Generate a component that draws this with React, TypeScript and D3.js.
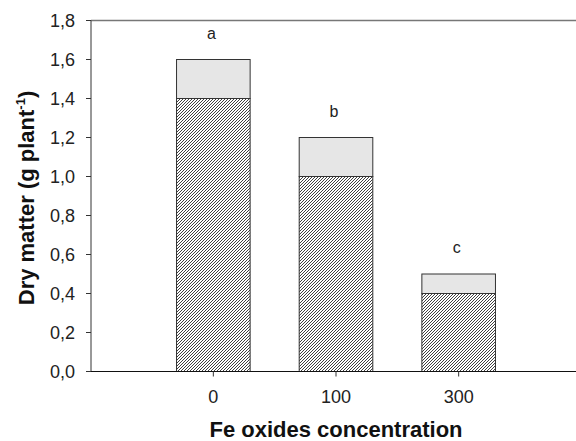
import React from 'react';
import * as d3 from 'd3';

// values
const categories = ['0', '100', '300'];
const hatchedValues = [1.4, 1.0, 0.4];
const totalValues = [1.6, 1.2, 0.5];
const letters = ['a', 'b', 'c'];
const yTicks = [0, 0.2, 0.4, 0.6, 0.8, 1.0, 1.2, 1.4, 1.6, 1.8];

const W = 576;
const H = 441;
const plot = { left: 91, top: 20.5, bottom: 371.5, right: 576 };
const FONT = 'Arial, "Liberation Sans", sans-serif';

export default function App() {
  const x = d3.scaleBand<string>()
    .domain(categories)
    .range([152, 520])
    .paddingInner(0.4)
    .paddingOuter(0.2);

  const y = d3.scaleLinear().domain([0, 1.8]).range([plot.bottom, plot.top]);
  const fmt = (v: number) => d3.format('.1f')(v).replace('.', ',');

  return (
    <svg width={W} height={H} style={{ position: 'absolute', left: 0, top: 0, background: '#fff' }}>
      <defs>
        <pattern id="hatch" patternUnits="userSpaceOnUse" width={3} height={3}>
          <rect width={3} height={3} fill="#fff" />
          <path d="M0,3 L3,0 M-0.75,0.75 L0.75,-0.75 M2.25,3.75 L3.75,2.25"
            stroke="#2a2a2a" strokeWidth={0.9} />
        </pattern>
      </defs>

      {/* frame: top line, left axis, bottom axis */}
      <line x1={plot.left} x2={plot.right} y1={plot.top} y2={plot.top} stroke="#777" strokeWidth={1.5} />
      <line x1={plot.left} x2={plot.left} y1={plot.top} y2={plot.bottom} stroke="#333" strokeWidth={1} />

      {/* bars */}
      {categories.map((c, i) => {
        const bx = x(c)!;
        const bw = x.bandwidth();
        return (
          <g key={c}>
            <rect x={bx} y={y(totalValues[i])} width={bw} height={y(hatchedValues[i]) - y(totalValues[i])}
              fill="#e6e6e6" stroke="#333" strokeWidth={1} />
            <rect x={bx} y={y(hatchedValues[i])} width={bw} height={y(0) - y(hatchedValues[i])}
              fill="url(#hatch)" stroke="#333" strokeWidth={1} />
            <text x={bx + bw / 2 - 2} y={y(totalValues[i]) - 21} textAnchor="middle"
              fontFamily={FONT} fontSize={16} fill="#222">{letters[i]}</text>
          </g>
        );
      })}

      <line x1={plot.left - 5} x2={plot.right} y1={plot.bottom} y2={plot.bottom} stroke="#111" strokeWidth={1.2} />

      {/* y ticks */}
      {yTicks.map(t => (
        <g key={t}>
          <line x1={plot.left - 5} x2={plot.left} y1={y(t)} y2={y(t)} stroke="#333" strokeWidth={1} />
          <text x={75} y={y(t) + 6.5} textAnchor="end" fontFamily={FONT} fontSize={18} fill="#222">{fmt(t)}</text>
        </g>
      ))}

      {/* x ticks */}
      {categories.map(c => {
        const cx = x(c)! + x.bandwidth() / 2;
        return (
          <g key={c}>
            <line x1={cx} x2={cx} y1={plot.bottom} y2={plot.bottom + 5} stroke="#333" strokeWidth={1} />
            <text x={cx} y={403} textAnchor="middle" fontFamily={FONT} fontSize={18} fill="#222">{c}</text>
          </g>
        );
      })}

      {/* axis titles */}
      <text x={336} y={437} textAnchor="middle" fontFamily={FONT} fontSize={22} fontWeight="bold" fill="#111">
        Fe oxides concentration
      </text>
      <text transform={`translate(34,${(plot.top + plot.bottom) / 2 + 2}) rotate(-90)`} textAnchor="middle"
        fontFamily={FONT} fontSize={22} fontWeight="bold" fill="#111">
        Dry matter (g plant<tspan fontSize={13} dy={-9}>-1</tspan><tspan dy={9}>)</tspan>
      </text>
    </svg>
  );
}
